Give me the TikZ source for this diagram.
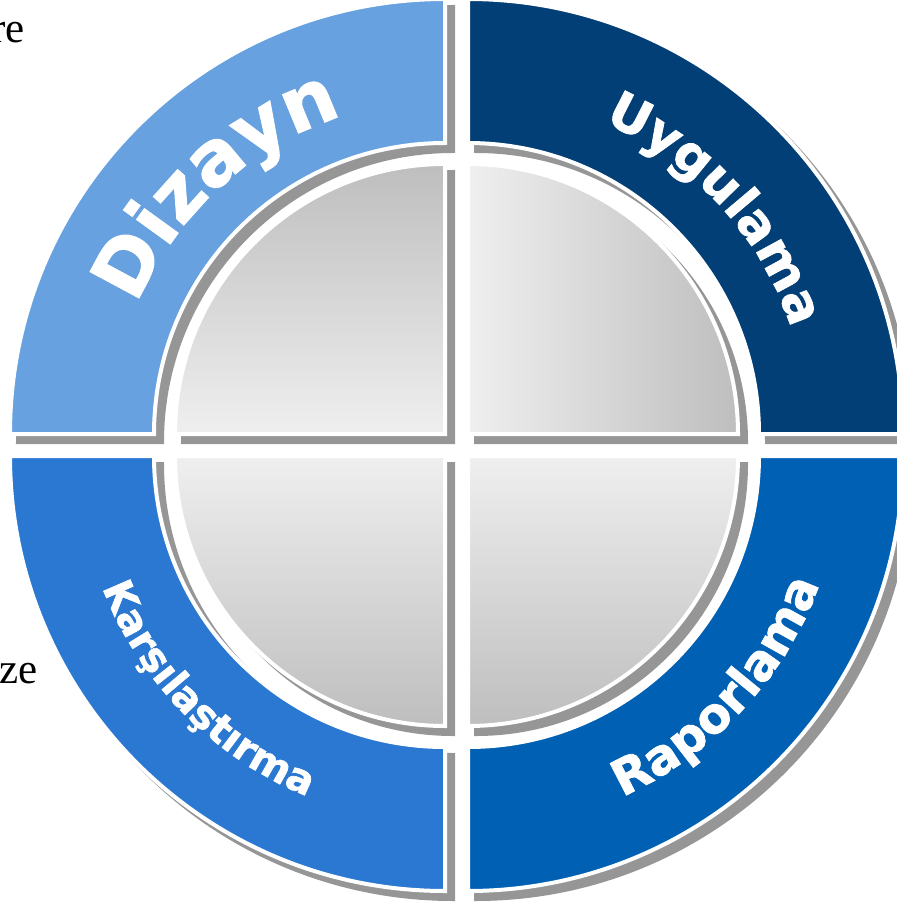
\documentclass[tikz,border=0pt]{standalone}
\usepackage{fontspec}
\usetikzlibrary{decorations.text}
\newfontfamily\segfont{DejaVu Sans Bold}[FakeBold=1.5]
\newfontfamily\docfont{Liberation Serif}
\definecolor{cTL}{HTML}{67A1E0}
\definecolor{cTR}{HTML}{023F76}
\definecolor{cBL}{HTML}{2A78D1}
\definecolor{cBR}{HTML}{0060B3}
\definecolor{shgray}{HTML}{969696}
\definecolor{qdark}{HTML}{BEBEBE}
\definecolor{qlight}{HTML}{EFEFEF}
\tikzset{
  shadowpart/.style={fill=shgray,draw=shgray,line width=4pt},
  partedge/.style={draw=white,line width=4pt},
  seglabel/.style={decorate,decoration={text along path,text align=center,text color=white,text={#1}}}
}
% ring segment: corner, start angle
\newcommand{\ringseg}[2]{([shift={(#2:291pt)}]#1) -- ([shift={(#2:435pt)}]#1) arc[start angle=#2,end angle={#2+90},radius=435pt] -- ([shift={({#2+90}:291pt)}]#1) arc[start angle={#2+90},end angle=#2,radius=291pt] -- cycle}
\newcommand{\quadseg}[2]{(#1) -- ([shift={(#2:270pt)}]#1) arc[start angle=#2,end angle={#2+90},radius=270pt] -- cycle}
\begin{document}
\begin{tikzpicture}[x=1pt,y=1pt]
\useasboundingbox (0,0) rectangle (896,-904);
\coordinate (TL) at (445,-434);
\coordinate (TR) at (468,-434);
\coordinate (BL) at (445,-456);
\coordinate (BR) at (468,-456);
\coordinate (TLs) at (453,-442);
\coordinate (TRs) at (476,-442);
\coordinate (BLs) at (453,-464);
\coordinate (BRs) at (476,-464);
% shadows
\path[shadowpart] \ringseg{TLs}{90};
\path[shadowpart] \ringseg{TRs}{0};
\path[shadowpart] \ringseg{BLs}{180};
\path[shadowpart] \ringseg{BRs}{270};
\path[shadowpart] \quadseg{TLs}{90};
\path[shadowpart] \quadseg{TRs}{0};
\path[shadowpart] \quadseg{BLs}{180};
\path[shadowpart] \quadseg{BRs}{270};
% outer segments
\path[partedge,fill=cTL] \ringseg{TL}{90};
\path[partedge,fill=cTR] \ringseg{TR}{0};
\path[partedge,fill=cBL] \ringseg{BL}{180};
\path[partedge,fill=cBR] \ringseg{BR}{270};
% inner quadrants
\path[partedge,top color=qdark,bottom color=qlight] \quadseg{TL}{90};
\path[partedge,left color=qlight,right color=qdark] \quadseg{TR}{0};
\path[partedge,top color=qlight,bottom color=qdark] \quadseg{BL}{180};
\path[partedge,top color=qlight,bottom color=qdark] \quadseg{BR}{270};
% labels
\path[seglabel={|\segfont\fontsize{76}{76}\selectfont|Dizayn}]
  ([shift={(177.5:334pt)}]TL) arc[start angle=177.5,end angle=87.5,radius=334pt];
\path[seglabel={|\segfont\fontsize{51}{51}\selectfont|Uygulama}]
  ([shift={(87.3:340pt)}]TR) arc[start angle=87.3,end angle=-2.7,radius=340pt];
\path[seglabel={|\segfont\fontsize{40}{40}\selectfont|Karşılaştırma}]
  ([shift={(179.5:367pt)}]BL) arc[start angle=179.5,end angle=269.5,radius=367pt];
\path[seglabel={|\segfont\fontsize{49}{49}\selectfont|Raporlama}]
  ([shift={(-87.85:374pt)}]BR) arc[start angle=-87.85,end angle=2.15,radius=374pt];
% document text fragments
\node[anchor=base east,inner sep=0pt,font=\docfont\fontsize{43}{43}\selectfont] (frag1) at (25,-43) {re};
\node[anchor=base east,inner sep=0pt,font=\docfont\fontsize{43}{43}\selectfont] (frag2) at (38,-683) {ze};
\end{tikzpicture}
\end{document}
